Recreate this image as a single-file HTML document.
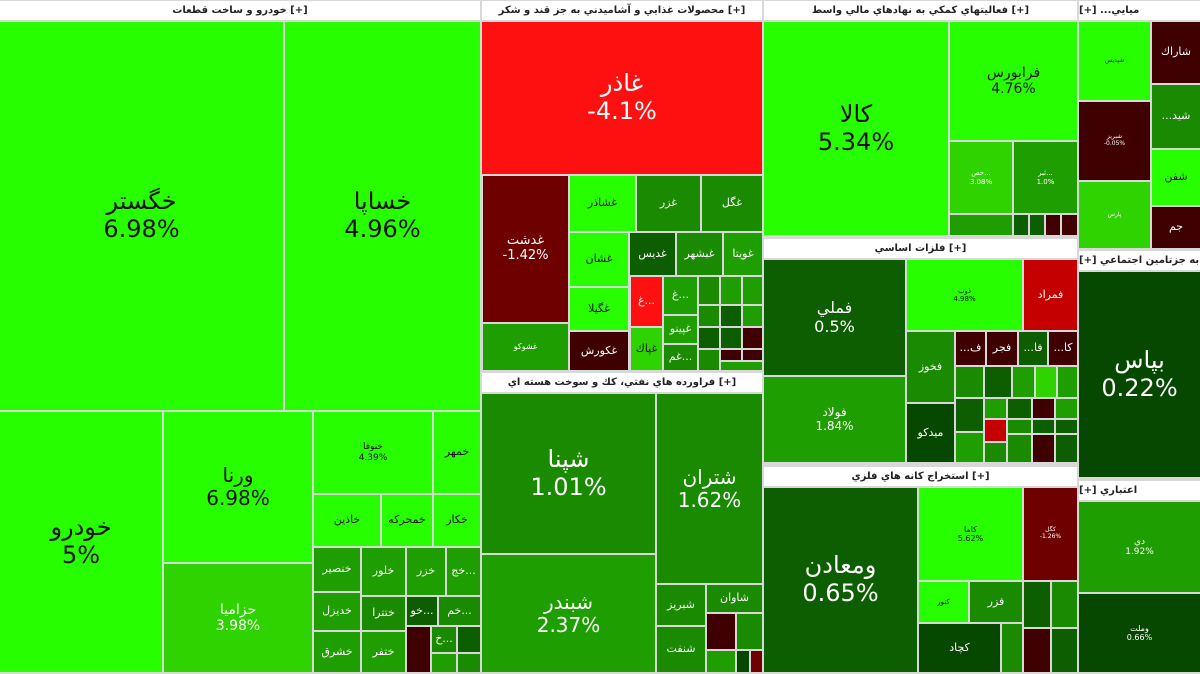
<!DOCTYPE html>
<html><head><meta charset="utf-8"><style>
body{margin:0;width:1200px;height:674px;background:#d8d8d8;position:relative;overflow:hidden;font-family:"DejaVu Sans","Liberation Sans",sans-serif}
.c{position:absolute;display:flex;flex-direction:column;align-items:center;justify-content:center;text-align:center;line-height:1.15;font-size:11px;color:#fff;overflow:hidden}
.h{position:absolute;background:#fff;color:#222;font-size:10px;font-weight:bold;text-align:center;line-height:19px;height:19px;white-space:nowrap;overflow:hidden}
.B{background:#27ff00;color:#111}.L{background:#2fd400;color:#fff}.M{background:#1e9e00}.N{background:#1a8a00}.D{background:#0c5e00}.E{background:#074800}
.R{background:#ff1010}.R2{background:#c40000}.X{background:#6e0000}.Y{background:#3e0000}
.big{font-size:24px}.med{font-size:20px}
</style></head><body>
<!-- sector 1 -->
<div class="h" style="left:0;top:1px;width:480px">خودرو و ساخت قطعات [+]</div>
<div class="c B big" style="left:0;top:22px;width:283px;height:388px">خگستر<br>6.98%</div>
<div class="c B big" style="left:285px;top:22px;width:195px;height:388px">خساپا<br>4.96%</div>
<div class="c B big" style="left:0;top:412px;width:162px;height:260px">خودرو<br>5%</div>
<div class="c B med" style="left:164px;top:412px;width:148px;height:150px">ورنا<br>6.98%</div>
<div class="c L" style="left:164px;top:564px;width:148px;height:108px;font-size:14px">حزاميا<br>3.98%</div>
<div class="c B" style="left:314px;top:412px;width:118px;height:81px;font-size:9px">خنوفا<br>4.39%</div>
<div class="c B" style="left:434px;top:412px;width:46px;height:81px">خمهر</div>
<div class="c B" style="left:314px;top:495px;width:66px;height:51px">خاذين</div>
<div class="c B" style="left:382px;top:495px;width:50px;height:51px">خمحركه</div>
<div class="c B" style="left:434px;top:495px;width:46px;height:51px">خكار</div>
<div class="c M" style="left:314px;top:548px;width:46px;height:43px">خنصير</div>
<div class="c M" style="left:362px;top:548px;width:43px;height:47px">خلور</div>
<div class="c M" style="left:407px;top:548px;width:38px;height:47px">خزر</div>
<div class="c M" style="left:447px;top:548px;width:33px;height:47px">خج...</div>
<div class="c M" style="left:314px;top:593px;width:46px;height:37px">خديزل</div>
<div class="c N" style="left:362px;top:597px;width:43px;height:33px">ختترا</div>
<div class="c D" style="left:407px;top:597px;width:30px;height:28px">خو...</div>
<div class="c N" style="left:439px;top:597px;width:41px;height:28px">خم...</div>
<div class="c M" style="left:314px;top:632px;width:46px;height:40px">خشرق</div>
<div class="c M" style="left:362px;top:632px;width:43px;height:40px">ختفر</div>
<div class="c Y" style="left:407px;top:627px;width:23px;height:45px"></div>
<div class="c N" style="left:432px;top:627px;width:24px;height:25px">خ...</div>
<div class="c D" style="left:458px;top:627px;width:22px;height:25px"></div>
<div class="c M" style="left:432px;top:654px;width:24px;height:18px"></div>
<div class="c N" style="left:458px;top:654px;width:22px;height:18px"></div>
<!-- sector 2 -->
<div class="h" style="left:482px;top:1px;width:280px">محصولات غذايي و آشاميدني به جز قند و شكر [+]</div>
<div class="c R big" style="left:482px;top:22px;width:280px;height:152px">غاذر<br>-4.1%</div>
<div class="c X" style="left:483px;top:176px;width:85px;height:146px;font-size:13px">غدشت<br>-1.42%</div>
<div class="c M" style="left:483px;top:324px;width:85px;height:46px;font-size:8px">غشوكو</div>
<div class="c B" style="left:570px;top:176px;width:65px;height:55px">غشاذر</div>
<div class="c N" style="left:637px;top:176px;width:63px;height:55px">غزر</div>
<div class="c N" style="left:702px;top:176px;width:60px;height:55px">غگل</div>
<div class="c B" style="left:570px;top:233px;width:58px;height:53px">غشان</div>
<div class="c D" style="left:630px;top:233px;width:45px;height:42px">غديس</div>
<div class="c N" style="left:677px;top:233px;width:45px;height:42px">غبشهر</div>
<div class="c M" style="left:724px;top:233px;width:38px;height:42px">غويتا</div>
<div class="c B" style="left:570px;top:288px;width:58px;height:42px">غگيلا</div>
<div class="c Y" style="left:570px;top:332px;width:58px;height:38px">غكورش</div>
<div class="c R" style="left:631px;top:277px;width:31px;height:49px">غ...</div>
<div class="c L" style="left:631px;top:328px;width:31px;height:42px;color:#111">غپاك</div>
<div class="c M" style="left:664px;top:277px;width:33px;height:37px">غ...</div>
<div class="c M" style="left:664px;top:316px;width:33px;height:27px">غپينو</div>
<div class="c N" style="left:664px;top:345px;width:33px;height:25px">غم...</div>
<div class="c N" style="left:699px;top:277px;width:20px;height:27px"></div>
<div class="c M" style="left:721px;top:277px;width:20px;height:27px"></div>
<div class="c M" style="left:743px;top:277px;width:19px;height:27px"></div>
<div class="c N" style="left:699px;top:306px;width:20px;height:20px"></div>
<div class="c D" style="left:721px;top:306px;width:20px;height:20px"></div>
<div class="c M" style="left:743px;top:306px;width:19px;height:20px"></div>
<div class="c D" style="left:699px;top:328px;width:20px;height:20px"></div>
<div class="c D" style="left:721px;top:328px;width:20px;height:20px"></div>
<div class="c Y" style="left:743px;top:328px;width:19px;height:20px"></div>
<div class="c N" style="left:699px;top:350px;width:20px;height:20px"></div>
<div class="c Y" style="left:721px;top:350px;width:20px;height:10px"></div>
<div class="c Y" style="left:743px;top:350px;width:19px;height:10px"></div>
<div class="c M" style="left:721px;top:362px;width:41px;height:8px"></div>
<!-- sector 3 -->
<div class="h" style="left:482px;top:373px;width:280px">فراورده هاي نفتي، كك و سوخت هسته اي [+]</div>
<div class="c N big" style="left:482px;top:394px;width:173px;height:159px">شپنا<br>1.01%</div>
<div class="c M med" style="left:482px;top:555px;width:173px;height:117px">شبندر<br>2.37%</div>
<div class="c N med" style="left:657px;top:394px;width:105px;height:189px">شتران<br>1.62%</div>
<div class="c N" style="left:657px;top:585px;width:48px;height:40px">شبريز</div>
<div class="c N" style="left:707px;top:585px;width:55px;height:27px">شاوان</div>
<div class="c N" style="left:657px;top:627px;width:48px;height:45px">شنفت</div>
<div class="c Y" style="left:707px;top:614px;width:28px;height:35px"></div>
<div class="c N" style="left:737px;top:614px;width:25px;height:35px"></div>
<div class="c M" style="left:707px;top:651px;width:28px;height:21px"></div>
<div class="c E" style="left:737px;top:651px;width:12px;height:21px"></div>
<div class="c X" style="left:751px;top:651px;width:11px;height:21px"></div>
<!-- sector 4 -->
<div class="h" style="left:764px;top:1px;width:313px">فعاليتهاي كمكي به نهادهاي مالي واسط [+]</div>
<div class="c B big" style="left:764px;top:22px;width:184px;height:213px">كالا<br>5.34%</div>
<div class="c B" style="left:950px;top:22px;width:127px;height:118px;font-size:14px">فرابورس<br>4.76%</div>
<div class="c L" style="left:950px;top:142px;width:62px;height:71px;font-size:7px">حص...<br>3.08%</div>
<div class="c M" style="left:1014px;top:142px;width:63px;height:71px;font-size:7px">ثبر...<br>1.0%</div>
<div class="c M" style="left:950px;top:215px;width:62px;height:20px"></div>
<div class="c D" style="left:1014px;top:215px;width:14px;height:20px"></div>
<div class="c D" style="left:1030px;top:215px;width:14px;height:20px"></div>
<div class="c Y" style="left:1046px;top:215px;width:14px;height:20px"></div>
<div class="c Y" style="left:1062px;top:215px;width:15px;height:20px"></div>
<!-- sector 5 -->
<div class="h" style="left:764px;top:239px;width:313px">فلزات اساسي [+]</div>
<div class="c D" style="left:764px;top:260px;width:141px;height:115px;font-size:16px">فملي<br>0.5%</div>
<div class="c M" style="left:764px;top:377px;width:141px;height:85px;font-size:12px">فولاد<br>1.84%</div>
<div class="c B" style="left:907px;top:260px;width:115px;height:70px;font-size:7px">ذوب<br>4.98%</div>
<div class="c R2" style="left:1024px;top:260px;width:53px;height:70px">فمراد</div>
<div class="c N" style="left:907px;top:332px;width:47px;height:70px">فخوز</div>
<div class="c E" style="left:907px;top:404px;width:47px;height:58px">ميدكو</div>
<div class="c Y" style="left:956px;top:332px;width:29px;height:33px">...ف</div>
<div class="c Y" style="left:987px;top:332px;width:30px;height:33px">فجر</div>
<div class="c D" style="left:1019px;top:332px;width:28px;height:33px">...فا</div>
<div class="c Y" style="left:1049px;top:332px;width:28px;height:33px">...كا</div>
<div class="c N" style="left:956px;top:367px;width:27px;height:30px"></div>
<div class="c D" style="left:985px;top:367px;width:26px;height:30px"></div>
<div class="c M" style="left:1013px;top:367px;width:21px;height:30px"></div>
<div class="c L" style="left:1036px;top:367px;width:20px;height:30px"></div>
<div class="c M" style="left:1058px;top:367px;width:19px;height:30px"></div>
<div class="c D" style="left:956px;top:399px;width:27px;height:32px"></div>
<div class="c M" style="left:985px;top:399px;width:21px;height:19px"></div>
<div class="c D" style="left:1008px;top:399px;width:23px;height:19px"></div>
<div class="c Y" style="left:1033px;top:399px;width:21px;height:19px"></div>
<div class="c M" style="left:1056px;top:399px;width:21px;height:19px"></div>
<div class="c R2" style="left:985px;top:420px;width:21px;height:21px"></div>
<div class="c N" style="left:1008px;top:420px;width:23px;height:13px"></div>
<div class="c D" style="left:1033px;top:420px;width:21px;height:13px"></div>
<div class="c D" style="left:1056px;top:420px;width:21px;height:13px"></div>
<div class="c M" style="left:956px;top:433px;width:27px;height:29px"></div>
<div class="c N" style="left:985px;top:443px;width:21px;height:19px"></div>
<div class="c N" style="left:1008px;top:435px;width:23px;height:27px"></div>
<div class="c Y" style="left:1033px;top:435px;width:21px;height:27px"></div>
<div class="c D" style="left:1056px;top:435px;width:21px;height:27px"></div>
<!-- sector 6 -->
<div class="h" style="left:764px;top:467px;width:313px">استخراج كانه هاي فلزي [+]</div>
<div class="c D big" style="left:764px;top:488px;width:153px;height:184px">ومعادن<br>0.65%</div>
<div class="c B" style="left:919px;top:488px;width:103px;height:92px;font-size:8px">كاما<br>5.62%</div>
<div class="c X" style="left:1024px;top:488px;width:53px;height:92px;font-size:6px">كگل<br>-1.26%</div>
<div class="c B" style="left:919px;top:582px;width:49px;height:40px;font-size:7px">كنور</div>
<div class="c N" style="left:970px;top:582px;width:52px;height:40px">فزر</div>
<div class="c E" style="left:919px;top:624px;width:81px;height:48px">كچاد</div>
<div class="c N" style="left:1002px;top:624px;width:20px;height:48px"></div>
<div class="c D" style="left:1024px;top:582px;width:26px;height:45px"></div>
<div class="c N" style="left:1052px;top:582px;width:25px;height:45px"></div>
<div class="c Y" style="left:1024px;top:629px;width:26px;height:43px"></div>
<div class="c D" style="left:1052px;top:629px;width:25px;height:43px"></div>
<!-- sector 7 -->
<div class="h" style="left:1079px;top:1px;width:121px;text-align:left">[+] ...ميايي</div>
<div class="c B" style="left:1079px;top:22px;width:71px;height:78px;font-size:6px">شپديس</div>
<div class="c Y" style="left:1152px;top:22px;width:48px;height:61px">شاراك</div>
<div class="c Y" style="left:1079px;top:102px;width:71px;height:78px;font-size:6px">شبريز<br>-0.05%</div>
<div class="c N" style="left:1152px;top:85px;width:48px;height:63px">...شيد</div>
<div class="c B" style="left:1152px;top:150px;width:48px;height:55px">شفن</div>
<div class="c L" style="left:1079px;top:182px;width:71px;height:66px;font-size:6px">پارس</div>
<div class="c Y" style="left:1152px;top:207px;width:48px;height:41px">جم</div>
<!-- sector 8 -->
<div class="h" style="left:1079px;top:251px;width:121px;text-align:left">[+] به جزتامين اجتماعي</div>
<div class="c E big" style="left:1079px;top:272px;width:121px;height:205px">بپاس<br>0.22%</div>
<!-- sector 9 -->
<div class="h" style="left:1079px;top:481px;width:121px;text-align:left">[+] اعتباري</div>
<div class="c M" style="left:1079px;top:502px;width:121px;height:90px;font-size:9px">دي<br>1.92%</div>
<div class="c E" style="left:1079px;top:594px;width:121px;height:78px;font-size:8px">وملت<br>0.66%</div>
</body></html>
